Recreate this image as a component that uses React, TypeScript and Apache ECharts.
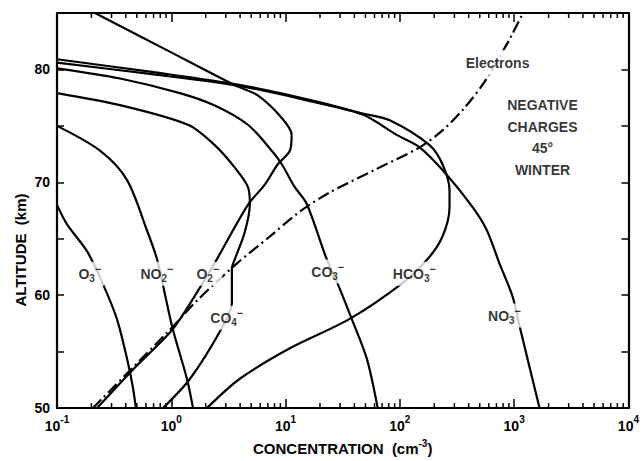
import React, { useEffect, useRef } from 'react';
import * as echarts from 'echarts';

const FONT = '"Liberation Sans", Arial, Helvetica, sans-serif';

// axis ranges
const X_MIN = 0.1;
const X_MAX = 10000;
const Y_MIN = 50;
const Y_MAX = 85;
const Y_STEP = 5;

// minor log ticks (2..9 in each decade)
const decadeStarts = [0.1, 1, 10, 100, 1000];
const minorMultipliers = [2, 3, 4, 5, 6, 7, 8, 9];

// [concentration (cm^-3), altitude (km)]
const o3Minus = [
  [0.1, 68.0], [0.122, 66.3], [0.183, 63.9], [0.247, 61.2], [0.334, 57.9],
  [0.418, 54.0], [0.462, 51.8], [0.49, 50.0],
];
const no2Minus = [
  [0.1, 75.0], [0.238, 72.8], [0.41, 70.2], [0.61, 65.8], [0.75, 63.2],
  [0.85, 60.8], [1.03, 57.0], [1.37, 52.6], [1.55, 50.0],
];
const o2Minus = [
  [0.215, 85.0], [0.879, 81.8], [3.6, 78.6], [5.71, 77.7], [9.27, 75.7],
  [11.3, 74.2], [10.9, 72.8], [8.55, 71.6], [6.58, 69.8], [4.68, 68.0],
  [2.51, 63.2], [1.89, 61.1], [1.03, 57.0], [0.481, 53.6], [0.224, 50.0],
];
const co4Minus = [
  [0.1, 77.9], [0.37, 76.8], [1.4, 75.1], [2.4, 73.3], [3.6, 71.3],
  [4.68, 69.6], [4.87, 68.1], [4.4, 65.6], [3.6, 63.2], [3.39, 62.4],
  [3.39, 59.3], [2.77, 57.1], [1.46, 52.6], [0.845, 50.0],
];
const co3Minus = [
  [0.1, 80.1], [0.356, 79.2], [1.19, 77.9], [2.4, 76.8], [4.68, 75.1],
  [7.57, 72.8], [9.27, 71.6], [12.0, 69.6], [15.3, 68.1], [22.9, 63.2],
  [28.6, 61.0], [37.9, 57.9], [51.3, 54.4], [64.0, 50.0],
];
const hco3Minus = [
  [0.1, 80.9], [0.65, 79.8], [4.14, 78.6], [18.0, 77.2], [47.3, 76.1],
  [81.5, 75.5], [182, 73.3], [236, 71.6], [272, 69.3], [272, 67.8],
  [236, 65.2], [175, 63.2], [106, 61.1], [36.4, 57.9], [10.9, 55.3],
  [3.98, 52.6], [2.05, 50.0],
];
const no3Minus = [
  [0.1, 80.6], [0.65, 79.6], [4.14, 78.5], [18.0, 77.1], [47.3, 76.0],
  [93.8, 74.2], [149, 73.1], [256, 70.7], [433, 67.8], [574, 65.8],
  [745, 62.8], [968, 59.9], [1114, 57.3], [1667, 50.0],
];
const electrons = [
  [0.206, 50.0], [0.933, 56.75], [1.67, 59.5], [3.74, 62.8], [7.28, 65.2],
  [13.3, 67.4], [24.3, 69.1], [60.2, 71.1], [149, 73.1], [236, 74.6],
  [368, 76.6], [551, 78.9], [745, 81.1], [948, 83.0], [1183, 84.9], [1230, 85.2],
];

// in-plot annotations: [concentration, altitude, rich text]
const curveLabels: [number, number, string][] = [
  [0.194, 61.9, '{m|O}{s|3}{p|−}'],
  [0.748, 61.9, '{m|NO}{s|2}{p|−}'],
  [2.09, 61.9, '{m|O}{s|2}{p|−}'],
  [3.06, 58.0, '{m|CO}{s|4}{p|−}'],
  [23.4, 62.1, '{m|CO}{s|3}{p|−}'],
  [134, 61.9, '{m|HCO}{s|3}{p|−}'],
  [824, 58.2, '{m|NO}{s|3}{p|−}'],
  [716, 80.6, '{t|Electrons}'],
  [1770, 73.95, '{t|NEGATIVE}\n{t|CHARGES}\n{t|45°}\n{t|WINTER}'],
];

const yLabelValues = [50, 60, 70, 80];

export default function App() {
  const ref = useRef<HTMLDivElement>(null);

  useEffect(() => {
    if (!ref.current) return;
    const chart = echarts.init(ref.current, undefined, { renderer: 'svg' });

    const minorTicks: number[][] = [];
    decadeStarts.forEach((d) => minorMultipliers.forEach((m) => minorTicks.push([d * m, Y_MIN])));

    const lineStyleBase = { color: '#000', width: 2.2 };
    const mkLine = (name: string, data: number[][], dashed = false) => ({
      name,
      type: 'line',
      data,
      showSymbol: false,
      symbol: 'none',
      smooth: 0.3,
      z: 3,
      lineStyle: dashed ? { ...lineStyleBase, type: [12, 4, 2, 4] } : lineStyleBase,
    });

    const txt = { fontFamily: FONT, fontWeight: 'bold' as const, color: '#000' };

    const option: any = {
      animation: false,
      backgroundColor: '#fff',
      grid: { left: 57, right: 13, top: 13, bottom: 48, containLabel: false },
      xAxis: [
        {
          type: 'log',
          logBase: 10,
          min: X_MIN,
          max: X_MAX,
          position: 'bottom',
          axisLine: { show: true, lineStyle: { color: '#000', width: 2.2 } },
          axisTick: { show: true, inside: true, length: 9, lineStyle: { color: '#000', width: 1.5 } },
          splitLine: { show: false },
          axisLabel: {
            margin: 6,
            formatter: (v: number) => `{b|10}{e|${Math.round(Math.log10(v))}}`,
            rich: {
              b: { ...txt, fontSize: 14, lineHeight: 19, verticalAlign: 'bottom' },
              e: { ...txt, fontSize: 10, lineHeight: 10, verticalAlign: 'top' },
            },
          },
          name: '{n|CONCENTRATION  (cm}{e|-3}{n|)}',
          nameLocation: 'middle',
          nameGap: 27,
          nameTextStyle: {
            rich: {
              n: { ...txt, fontSize: 15, lineHeight: 18, verticalAlign: 'bottom' },
              e: { ...txt, fontSize: 10, lineHeight: 10, verticalAlign: 'top' },
            },
          },
        },
        {
          type: 'log',
          logBase: 10,
          min: X_MIN,
          max: X_MAX,
          position: 'top',
          axisLine: { show: true, lineStyle: { color: '#000', width: 2.2 } },
          axisTick: { show: true, inside: true, length: 9, lineStyle: { color: '#000', width: 1.5 } },
          axisLabel: { show: false },
          splitLine: { show: false },
        },
      ],
      yAxis: [
        {
          type: 'value',
          min: Y_MIN,
          max: Y_MAX,
          interval: Y_STEP,
          position: 'left',
          axisLine: { show: true, lineStyle: { color: '#000', width: 2.2 } },
          axisTick: { show: true, inside: true, length: 7, lineStyle: { color: '#000', width: 1.5 } },
          splitLine: { show: false },
          axisLabel: {
            ...txt,
            fontSize: 14,
            margin: 7,
            formatter: (v: number) => (yLabelValues.includes(v) ? String(v) : ''),
          },
        },
        {
          type: 'value',
          min: Y_MIN,
          max: Y_MAX,
          interval: Y_STEP,
          position: 'right',
          axisLine: { show: true, lineStyle: { color: '#000', width: 2.2 } },
          axisTick: { show: true, inside: true, length: 7, lineStyle: { color: '#000', width: 1.5 } },
          axisLabel: { show: false },
          splitLine: { show: false },
        },
      ],
      graphic: [
        {
          type: 'text',
          x: 20,
          y: 250,
          rotation: Math.PI / 2,
          style: { text: 'ALTITUDE  (km)', ...txt, fill: '#000', fontSize: 15, align: 'center', verticalAlign: 'middle' },
        },
      ],
      series: [
        {
          type: 'custom',
          xAxisIndex: 0,
          yAxisIndex: 0,
          data: minorTicks,
          silent: true,
          z: 4,
          renderItem: (_p: any, api: any) => {
            const v = api.value(0);
            const b = api.coord([v, Y_MIN]);
            const t = api.coord([v, Y_MAX]);
            const st = { stroke: '#000', lineWidth: 1.5 };
            return {
              type: 'group',
              children: [
                { type: 'line', shape: { x1: b[0], y1: b[1], x2: b[0], y2: b[1] - 5 }, style: st },
                { type: 'line', shape: { x1: t[0], y1: t[1], x2: t[0], y2: t[1] + 5 }, style: st },
              ],
            };
          },
        },
        mkLine('O3-', o3Minus),
        mkLine('NO2-', no2Minus),
        mkLine('O2-', o2Minus),
        mkLine('CO4-', co4Minus),
        mkLine('CO3-', co3Minus),
        mkLine('HCO3-', hco3Minus),
        mkLine('NO3-', no3Minus),
        mkLine('Electrons', electrons, true),
        {
          type: 'scatter',
          z: 10,
          zlevel: 1,
          symbolSize: 1,
          itemStyle: { color: 'rgba(0,0,0,0)' },
          silent: true,
          data: curveLabels.map((d) => ({ name: d[2], value: [d[0], d[1]] })),
          label: {
            show: true,
            position: 'inside',
            formatter: (p: any) => p.name,
            backgroundColor: '#fff',
            padding: [2, 3],
            align: 'center',
            rich: {
              m: { ...txt, fontSize: 14, lineHeight: 20, verticalAlign: 'middle' },
              s: { ...txt, fontSize: 10, lineHeight: 10, verticalAlign: 'bottom' },
              p: { ...txt, fontSize: 11, lineHeight: 10, verticalAlign: 'top' },
              t: { ...txt, fontSize: 14, lineHeight: 21.5, align: 'center' },
            },
          },
        },
      ],
    };

    chart.setOption(option);
    return () => chart.dispose();
  }, []);

  return (
    <div
      ref={ref}
      style={{ position: 'absolute', left: 0, top: 0, width: 642, height: 461, background: '#fff' }}
    />
  );
}
